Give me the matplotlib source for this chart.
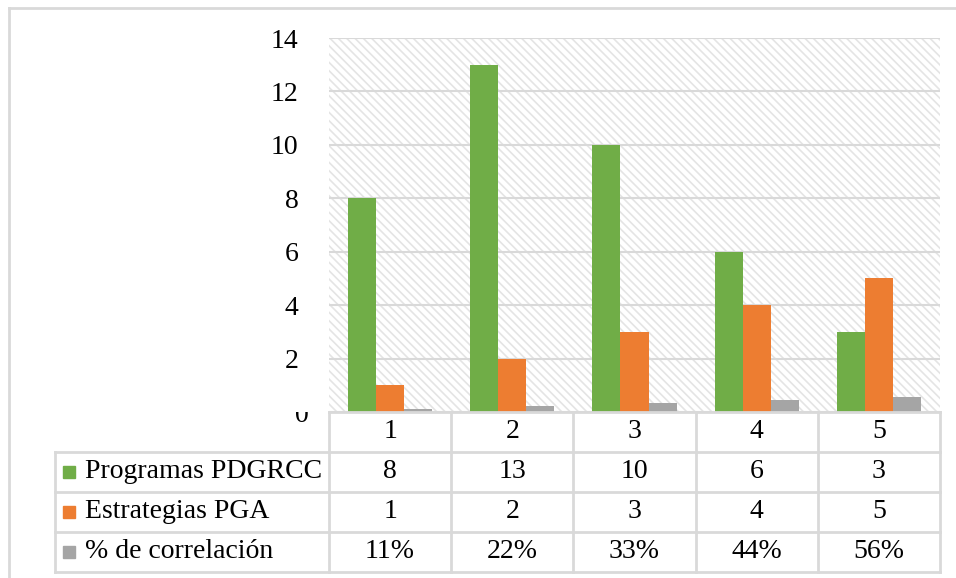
import matplotlib.pyplot as plt
from matplotlib.patches import Rectangle
import numpy as np

# data
categories = ['1', '2', '3', '4', '5']
programas = [8, 13, 10, 6, 3]
estrategias = [1, 2, 3, 4, 5]
correlacion = [0.11, 0.22, 0.33, 0.44, 0.56]
series_names = ['Programas PDGRCC', 'Estrategias PGA', '% de correlación']
row_labels = [['8', '13', '10', '6', '3'],
              ['1', '2', '3', '4', '5'],
              ['11%', '22%', '33%', '44%', '56%']]
colors = ['#70AD47', '#ED7D31', '#A5A5A5']
grid_col = '#D9D9D9'

plt.rcParams['font.family'] = ['Liberation Serif', 'DejaVu Serif']
plt.rcParams['hatch.color'] = '#E4E4E4'
plt.rcParams['hatch.linewidth'] = 1.2

W, H = 956, 578
fig = plt.figure(figsize=(W / 100, H / 100), dpi=100)

def box(x0, y0, x1, y1):
    # pixel box (top-left origin) -> figure fraction
    return [x0 / W, 1 - y1 / H, (x1 - x0) / W, (y1 - y0) / H]

# outer chart border (cropped on right and bottom)
fig.add_artist(plt.Line2D([9 / W, 9 / W], [0, 1 - 8 / H], color=grid_col, lw=2))
fig.add_artist(plt.Line2D([9 / W, 1], [1 - 8 / H, 1 - 8 / H], color=grid_col, lw=2))

# main bar axes
ax = fig.add_axes(box(329, 38, 940, 412))
ax.add_patch(Rectangle((0, 0), 1, 1, transform=ax.transAxes, facecolor='white',
                       hatch='\\\\\\\\', edgecolor='#E4E4E4', lw=0, zorder=0))
x = np.arange(1, 6)
w = 0.23
ax.bar(x - w, programas, w, color=colors[0], zorder=3)
ax.bar(x, estrategias, w, color=colors[1], zorder=3)
ax.bar(x + w, correlacion, w, color=colors[2], zorder=3)
ax.set_xlim(0.5, 5.5)
ax.set_ylim(0, 14)
yt = np.arange(0, 15, 2)
ax.set_yticks(yt)
ax.set_yticklabels([''] + [str(v) for v in yt[1:]], fontsize=20)
ax.tick_params(axis='y', length=0, pad=22)
ax.set_xticks([])
ax.grid(axis='y', color=grid_col, lw=1.5, zorder=1)
ax.set_axisbelow(True)
for s in ax.spines.values():
    s.set_visible(False)

# zero label, partly hidden like in the original
zero = fig.text(302 / W, 1 - 415 / H, '0', fontsize=20, ha='center', va='center')
clip = Rectangle((0, 0), W, H - 412, transform=None)
zero.set_clip_path(clip)

# data table below
tb = fig.add_axes([0, 0, 1, 1])
tb.set_xlim(0, W)
tb.set_ylim(H, 0)
tb.axis('off')
col_edges = [329 + i * 611 / 5 for i in range(6)]
row_edges = [412, 452, 492, 532, 572]
lk = dict(color=grid_col, lw=2, solid_capstyle='projecting')
tb.plot([329, 940], [412, 412], **lk)
for y in row_edges[1:]:
    tb.plot([55, 940], [y, y], **lk)
tb.plot([55, 55], [452, 572], **lk)
for xe in col_edges:
    tb.plot([xe, xe], [412, 572], **lk)

for i, c in enumerate(categories):
    cx = (col_edges[i] + col_edges[i + 1]) / 2
    tb.text(cx, 431, c, fontsize=20, ha='center', va='center')
    for r in range(3):
        tb.text(cx, (row_edges[r + 1] + row_edges[r + 2]) / 2 - 1, row_labels[r][i],
                fontsize=20, ha='center', va='center')

for r in range(3):
    cy = (row_edges[r + 1] + row_edges[r + 2]) / 2
    tb.add_patch(Rectangle((63, cy - 6), 12, 12, color=colors[r]))
    tb.text(85, cy - 1, series_names[r], fontsize=20, ha='left', va='center')

fig.savefig('out.png', dpi=100)
